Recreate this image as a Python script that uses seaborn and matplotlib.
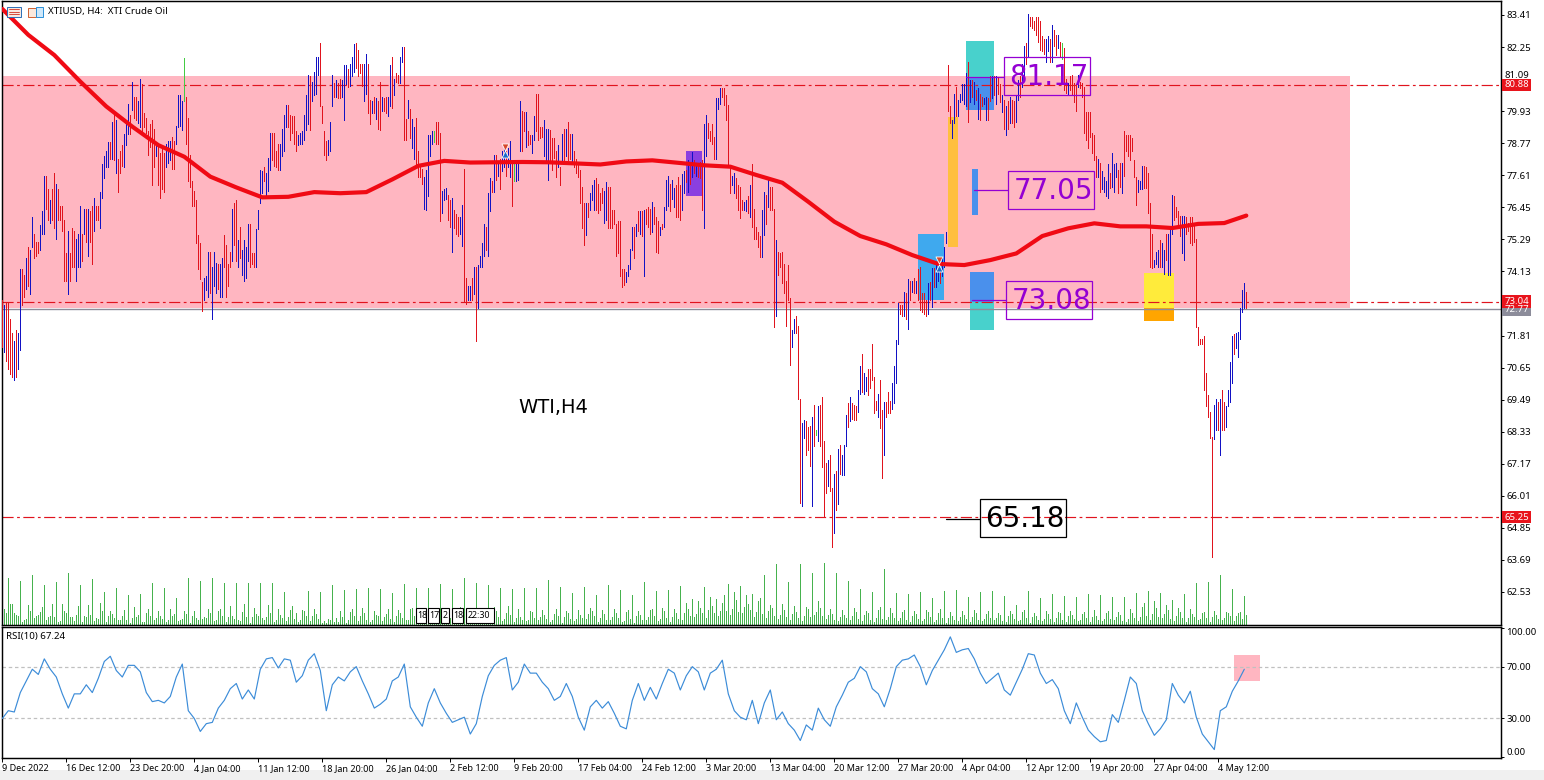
import matplotlib
matplotlib.use("Agg")
import matplotlib.pyplot as plt
from matplotlib.patches import Rectangle
import numpy as np
import pandas as pd
import seaborn as sns

# ---------- data ----------
bar_high = [
73.1,72.9,73.0,73.0,72.4,71.9,71.6,72.0,71.9,74.2,74.2,74.0,74.6,
75.0,74.9,76.1,75.5,75.2,75.2,75.8,76.3,77.6,77.6,77.1,76.7,77.1,
77.7,77.3,77.1,76.5,76.5,76.0,74.8,75.6,74.8,75.7,75.6,75.3,75.5,
76.5,75.5,76.4,76.4,76.4,76.3,76.5,76.8,76.5,76.5,77.0,78.0,78.3,
78.5,78.8,78.8,79.55,79.85,79.6,78.2,78.5,78.7,79.1,79.55,80.2,79.8,
81.0,80.45,80.45,80.3,81.1,80.9,79.85,79.7,79.2,79.45,79.6,79.3,78.8,
78.75,78.4,78.6,78.4,78.75,78.85,78.85,79.0,78.85,79.4,80.5,80.5,80.3,
81.85,80.45,79.7,78.35,77.4,77.05,76.7,75.45,75.15,73.75,73.9,73.95,74.85,
74.85,74.3,74.85,74.45,74.4,74.4,74.6,75.45,75.1,74.4,74.85,76.4,76.6,
76.7,75.25,75.75,74.9,75.25,75.0,75.85,75.85,74.8,74.8,75.65,76.35,77.8,
77.75,77.9,77.7,78.25,79.15,79.15,79.15,78.5,78.75,78.75,79.3,79.8,80.15,
80.15,79.8,79.75,79.75,79.2,79.05,79.15,79.2,79.8,80.5,81.25,81.2,81.0,
81.35,81.9,81.9,82.4,80.1,79.2,78.85,78.9,79.55,81.25,80.95,81.05,80.95,
81.1,81.05,81.6,81.6,81.45,81.65,81.9,82.35,82.4,82.15,81.65,81.65,81.65,
82.0,81.65,80.35,80.3,80.45,80.4,80.3,81.0,80.45,80.4,80.45,80.45,81.6,
81.9,81.1,81.3,81.25,81.9,82.25,82.25,79.65,80.35,80.0,79.65,79.35,79.7,
78.5,78.0,77.85,77.55,77.8,79.05,79.05,79.2,79.2,79.55,79.55,79.15,77.05,
77.1,77.15,76.9,76.7,76.8,76.35,76.2,76.1,76.1,76.55,77.85,73.9,73.6,
73.6,73.9,74.3,74.3,74.35,74.7,75.15,75.85,75.75,76.95,77.5,77.4,78.35,
78.35,78.1,78.2,78.5,78.7,78.5,78.6,78.85,78.1,78.05,78.1,78.1,80.3,
79.95,79.9,79.9,79.2,79.05,79.05,79.75,80.55,80.55,79.35,79.35,79.6,79.3,
79.3,79.25,78.95,78.95,78.5,78.7,77.9,79.1,79.3,79.3,79.55,79.1,79.1,
78.5,78.2,78.1,77.8,77.2,76.6,76.6,76.6,76.95,77.25,77.45,77.5,77.3,
76.95,77.15,77.05,77.35,77.2,77.2,76.35,76.35,75.85,75.95,75.95,74.2,74.2,
74.1,74.35,74.95,75.75,75.75,75.85,76.3,76.3,76.3,76.35,76.4,76.45,76.4,
76.65,76.45,76.1,75.95,75.75,75.85,76.45,77.45,77.6,77.3,77.45,77.15,77.25,
77.55,77.25,77.65,77.75,77.8,78.15,78.0,78.45,78.15,78.05,78.05,78.1,78.15,
79.45,79.8,79.5,79.2,79.45,79.0,80.4,80.4,80.75,80.75,80.75,80.5,80.15,
77.9,77.6,77.7,77.5,77.25,77.2,76.7,76.65,76.7,76.85,77.25,78.0,76.4,
75.75,75.55,75.4,76.35,77.0,76.9,77.45,77.2,77.2,76.4,75.25,74.85,74.8,
74.85,74.4,73.8,74.35,73.15,72.0,72.4,72.5,72.15,69.5,68.65,68.75,68.7,
68.5,68.55,68.85,69.3,68.4,69.25,69.3,69.6,68.0,67.2,67.3,67.5,66.3,
66.8,66.9,67.7,67.85,67.5,67.85,68.95,69.35,69.6,69.35,69.3,69.25,69.85,
70.7,71.15,70.45,70.3,70.6,70.6,71.5,70.3,69.45,69.7,70.2,69.1,69.4,
69.4,69.75,69.45,70.1,70.7,71.65,72.97,72.9,72.9,73.4,73.35,73.85,73.8,
73.8,73.9,73.8,74.2,74.3,73.35,73.35,73.1,73.7,73.75,74.25,74.25,74.4,
74.3,74.2,74.65,75.0,75.55,81.6,80.1,79.6,80.55,80.8,80.35,80.55,80.9,
80.9,81.3,81.7,81.05,81.05,81.0,80.7,80.75,80.55,80.45,80.4,80.45,80.4,
81.2,81.2,81.2,81.2,81.15,80.9,80.5,80.35,80.1,80.3,80.45,80.35,80.3,
80.5,81.05,81.2,81.65,82.3,82.4,83.45,83.35,83.35,83.2,83.35,83.35,83.2,
82.65,82.55,82.55,82.65,82.55,83.05,82.85,82.7,82.7,82.45,82.4,82.2,81.1,
80.95,81.2,81.25,80.95,80.9,81.25,81.0,80.95,80.8,79.9,79.9,79.9,79.15,
79.05,78.3,78.2,78.05,77.75,77.55,77.4,78.0,77.7,78.4,78.0,78.05,77.8,
78.05,78.05,79.2,79.05,79.05,79.05,78.95,78.15,77.55,77.45,77.4,77.95,77.95,
77.9,77.7,76.6,75.5,74.55,74.85,74.9,75.25,75.15,74.9,75.5,75.5,75.75,
76.9,76.85,76.45,76.3,76.15,76.15,76.15,76.1,75.9,76.1,76.1,75.85,75.3,
72.1,71.7,71.7,71.8,70.45,69.65,69.05,68.15,69.3,69.5,69.4,69.5,69.85,
69.4,69.25,69.85,70.85,71.8,71.85,71.9,71.95,72.8,73.45,73.7,73.4]

bar_low = [
71.4,71.2,70.9,70.6,70.4,70.3,70.2,70.3,70.6,71.3,72.9,73.2,73.5,
73.6,73.3,75.0,74.6,74.7,74.8,74.9,75.5,75.5,76.4,76.0,75.9,76.0,
75.7,75.3,76.0,76.0,75.6,73.8,73.8,73.3,73.8,74.3,74.3,73.8,74.3,
74.3,74.5,75.5,75.2,74.7,75.2,74.4,75.6,76.0,76.0,75.7,76.8,77.5,
77.9,77.9,78.2,78.2,78.15,77.7,77.0,77.7,77.95,77.9,78.7,79.1,79.1,
79.97,79.7,79.6,79.5,79.35,79.2,79.35,79.15,78.35,78.65,77.25,77.9,78.3,
77.25,76.8,77.1,77.0,77.9,78.05,78.15,77.85,77.85,78.75,79.35,79.4,79.25,
80.3,78.75,77.4,77.2,76.5,76.5,75.15,74.2,73.85,72.7,73.1,73.45,73.2,
73.35,72.4,73.6,73.35,73.5,73.2,73.2,74.3,73.2,73.6,74.3,74.5,75.1,
74.5,74.3,74.6,74.0,73.8,73.9,74.5,74.3,74.4,74.3,74.3,75.65,76.6,
76.95,77.4,76.85,77.05,77.8,78.15,77.95,77.9,77.8,77.8,78.3,78.5,79.35,
79.35,78.9,79.15,78.75,78.5,78.7,78.75,78.75,78.9,79.25,79.45,79.25,80.3,
80.5,80.55,81.25,80.1,79.5,78.35,78.15,78.35,78.5,80.1,80.45,80.45,80.4,
80.4,80.45,79.6,80.9,80.8,80.85,81.2,81.35,81.5,81.2,81.3,80.85,80.3,
80.55,79.85,79.45,79.85,79.85,79.65,79.3,79.25,79.95,79.95,79.85,79.75,80.1,
80.05,80.5,81.0,80.95,80.95,81.7,78.9,78.9,79.7,78.95,78.6,78.2,77.9,
77.55,77.55,77.3,76.4,76.35,76.85,78.3,78.75,78.8,78.75,78.75,75.95,76.25,
76.7,76.75,76.0,75.75,74.85,75.7,75.5,75.4,75.5,75.05,73.05,72.95,73.1,
73.1,73.1,73.3,71.6,72.8,74.3,74.3,74.7,74.9,74.7,76.3,77.0,77.0,
77.45,77.6,77.1,77.75,77.9,77.6,77.9,77.55,76.5,77.4,77.4,77.45,78.5,
78.5,79.2,78.65,78.7,78.75,78.4,78.9,79.2,78.9,78.95,79.0,78.3,78.15,
77.45,78.15,77.8,78.25,77.55,77.9,77.25,78.05,78.15,78.3,78.15,78.2,78.05,
77.9,77.7,77.55,76.6,75.7,75.1,75.45,76.1,76.35,76.7,76.35,76.35,76.25,
76.35,76.6,75.9,76.0,75.7,75.7,75.7,75.85,74.7,74.8,73.95,73.55,73.65,
73.75,73.95,74.2,74.9,74.6,75.4,75.6,75.5,75.4,73.95,75.85,75.75,75.5,
75.55,75.85,74.85,74.8,75.45,75.65,75.75,76.35,76.5,76.3,76.75,76.45,76.1,
76.1,76.0,76.35,76.95,77.35,77.0,77.3,77.55,77.7,77.6,77.55,77.5,76.35,
75.7,78.3,78.95,78.85,78.75,78.2,78.2,80.0,80.2,80.45,80.15,79.6,77.9,
76.95,77.25,76.95,76.8,76.35,76.05,76.35,76.35,76.3,76.25,76.1,75.75,75.3,
75.3,75.0,74.65,74.65,75.45,75.85,76.45,76.35,76.35,72.13,72.5,74.0,74.3,
73.7,73.35,72.15,73.1,70.75,71.4,71.9,71.9,69.5,65.75,65.65,68.1,67.5,
67.65,67.1,65.65,67.8,68.2,68.0,67.8,67.05,65.25,66.1,66.35,66.2,64.15,
64.65,65.5,65.7,66.8,66.75,66.75,67.8,68.5,68.7,68.8,68.75,68.75,69.05,
69.7,69.75,69.7,69.8,69.65,69.9,70.2,69.0,69.1,68.85,68.45,66.65,67.5,
68.85,69.0,69.0,69.15,69.35,70.1,71.5,72.6,72.5,72.5,72.4,72.05,73.1,
73.4,73.35,73.35,73.1,72.75,72.65,72.6,72.5,72.6,73.1,72.85,73.55,73.55,
73.8,73.7,73.95,74.3,75.15,79.95,79.5,78.95,79.5,79.75,79.75,80.25,80.35,
80.2,80.1,79.55,80.25,80.45,80.2,80.35,79.65,79.6,80.1,80.2,79.6,79.6,
80.3,80.4,80.5,80.2,80.55,80.25,79.9,79.3,79.05,79.3,79.5,79.5,79.35,
79.55,80.35,80.45,80.8,81.1,81.65,81.9,83.0,82.95,82.85,82.7,82.45,82.15,
82.1,82.0,81.7,82.1,81.7,81.7,82.3,81.95,82.2,81.9,81.8,80.7,80.6,
80.5,80.7,80.55,80.25,79.95,80.8,80.75,80.45,79.15,78.9,78.6,79.0,78.4,
78.15,77.55,77.55,77.0,77.1,77.0,76.85,76.8,77.15,77.2,77.0,77.55,76.95,
77.2,76.95,77.6,78.5,78.3,78.15,78.5,77.55,76.55,77.0,77.1,77.1,77.15,
77.15,76.25,74.3,74.25,74.3,74.4,74.3,74.3,74.3,74.05,74.55,74.0,74.0,
75.5,76.0,76.1,75.75,75.4,74.8,74.55,75.5,75.6,75.15,75.1,75.2,72.1,
71.45,71.5,71.5,69.85,69.25,68.85,68.1,63.8,68.05,68.4,68.4,67.5,68.4,
68.4,68.5,69.25,69.4,70.1,71.15,71.35,71.05,71.7,72.65,72.8,72.8]

bar_dir = ("rbrrrrbrbbrrb" "rbbrrrbbbrrbr" "rbrrrrrbrrrbb" "brbrbrrbrrbbb" "bbrbrbrrrbbbr" "brrbbrrrrrrrb"
           "rrrrbbbrrbbbb" "grrrrrrrrrbbb" "rbbbrbbrrrrbr" "rbrbbbbrrrbbb" "brbbbrrrrbbbb" "rrrrrbbbbbbrb"
           "bbbrrrrbbbrbr" "rbbbrbbbrrrrb" "brrbrbrrbrrbb" "rbrrbbrrbrbbr" "rrrbbbbbgrrrb" "bbrrbrrrbbrrb"
           "brbrbbbbrbbrb" "rbrbbrbbrgbbb" "rrbrrbbrrrrbb" "brrrrbrbrbrrb" "rrrrrrbrbbbrr" "rrbbrrrrrrrrr"
           "bbbbrbrbrbrrr" "brrrbrbbbrbbr" "rrbbrbrbrbrrr" "bbrrrrbbbrrrr" "rbbrrrrbbrbrr" "rrrbbrbrrrbrr"
           "rrrrrbbrrrbbr" "rrbrgbrrrrbrr" "brbrbbbrbrrrb" "brbbrrrrrbrrb" "rrrbbbbrrbrbr" "brbrrrrrbrbrb"
           "brbbbrrbbrbbb" "bbrbrbrbrrbbr" "rbrbrrbrbrbrr" "bbrbbrbrrrrrr" "rrbbrbrrbrgrr" "brrrrbrrrrrrr"
           "rrbrbbbbrbbbr" "rbrrrrrrrbbbr" "rrrrbbbrbbrbb" "brrrrbbrrrrrr" "rrrrrrrrbbrbr" "rbbbbrbbbbbr")

ma_every_13 = [83.63,82.69,81.96,81.0,80.1,79.37,78.7,78.28,77.56,77.17,76.81,76.83,77.0,76.96,77.0,77.46,
               77.95,78.13,78.07,78.08,78.09,78.08,78.04,78.0,78.11,78.15,78.06,77.97,77.92,77.62,77.34,76.65,
               75.93,75.41,75.11,74.72,74.4,74.36,74.54,74.78,75.41,75.69,75.87,75.76,75.76,75.7,75.85,75.88,76.15]

vol_head = [9, 16, 12]
vol_spike = [47,44,50,40,43,52,40,46,33,37,30,31,42,37,27,47,44,47,42,42,42,42,42,33,12,34,33,40,35,36,37,36,32,41,37,37,41,36,47,42,40,37,36,37,37,45,38,32,38,30,40,35,30,
             43,34,35,39,26,38,26,41,39,31,50,61,43,61,52,62,52,44,36,33,56,32,31,33,27,34,35,28,33,34,29,20,34,27,31,29,28,31,30,28,28,32,34,32,25,31,42,43,50,36,29]
vol_other = [
21,21,12,10,9, 3,5,6,20,14, 7,9,10,13,18, 5,8,9,21,8, 3,4,21,14,12, 8,8,4,10,19, 3,9,8,20,10, 4,7,6,22,14,
3,9,14,11,7, 5,5,9,15,5, 2,7,18,8,10, 3,3,12,16,9, 5,7,14,9,6, 3,5,16,9,11, 4,5,6,14,11, 2,9,14,7,5,
6,8,7,16,12, 4,5,14,16,9, 3,8,19,9,6, 5,4,13,21,8, 2,8,17,11,9, 7,5,8,20,12, 3,5,16,10,7, 4,8,15,19,6,
3,5,15,14,9, 4,9,16,11,6, 2,4,2,6,5, 3,7,3,14,8, 2,5,13,16,9, 4,9,17,12,5, 3,5,14,10,9, 4,8,11,16,6,
3,9,15,12,7, 5,5,16,17,9, 2,8,16,10,6, 4,6,15,13,8, 3,5,17,10,7, 5,9,11,18,6, 3,5,16,11,9, 4,7,14,17,7,
6,9,18,14,8, 4,6,12,19,10, 3,7,16,8,5, 4,5,14,13,7, 5,8,15,10,6, 3,5,11,16,9, 2,8,14,12,6, 4,6,15,10,7,
6,11,17,14,9, 3,7,15,11,5, 5,8,16,12,7, 3,4,13,15,6, 2,9,14,10,5, 5,8,15,16,9, 4,6,17,14,7, 3,8,16,12,6,
5,12,22,16,9, 8,11,24,17,12, 7,15,28,19,12, 9,14,22,30,14, 10,16,33,25,13, 12,18,30,21,15, 8,13,24,27,11, 7,14,20,17,9,
6,10,21,15,8, 5,11,19,13,7, 4,9,18,16,8, 10,13,24,17,9, 6,10,16,11,5, 4,8,15,10,7, 5,9,17,13,6, 4,10,14,12,5,
3,7,15,18,6, 5,8,17,12,7, 4,7,13,15,5, 3,9,14,11,6, 4,6,15,13,8, 3,5,12,16,7, 2,7,13,9,5, 4,8,14,10,6,
3,8,15,12,5, 4,6,11,14,7, 5,7,12,10,4, 3,9,14,11,6, 4,5,13,15,7, 2,8,12,9,5, 4,6,14,11,6, 3,7,13,12,5,
3,9,14,10,6, 4,5,11,13,7, 3,8,15,9,5, 4,6,12,14,6, 5,8,13,10,4, 3,6,16,12,7, 4,8,18,22,9, 5,11,24,17,8,
7,11,20,15,6, 4,9,17,13,7, 3,7,16,11,8, 5,6,12,13,7, 3,8,14,10,6, 5,7,13,12,9, 4,9,12,13,6]
vol_tail = [10]

rsi_every_3 = [30,36,35,50,59,68,64,76,68,62,49,38,49,49,56,50,61,74,78,67,62,71,71,66,50,43,44,42,47,62,
               72,36,30,20,26,27,38,44,53,57,45,52,45,68,76,77,69,76,75,58,63,75,80,67,36,56,62,59,66,70,
               59,49,38,41,45,59,62,72,39,31,24,42,53,42,34,27,29,31,18,26,47,63,71,75,77,52,58,72,65,65,
               58,53,44,47,57,47,31,21,39,44,38,43,34,24,22,44,57,
               44,54,45,57,68,65,52,63,70,66,52,65,68,75,49,36,31,29,44,26,42,52,29,35,26,21,13,25,21,38,
               29,24,39,48,58,61,70,66,53,49,39,53,70,75,76,79,70,56,67,75,83,93,81,83,84,76,65,57,61,65,
               52,48,58,68,80,79,65,57,60,53,36,26,42,31,21,16,12,13,33,27,44,62,57,36,26,17,22,29,57,48,
               42,51,31,18,12,6,36,39,51,59,68]

price_ticks = [83.41,82.25,81.09,79.93,78.77,77.61,76.45,75.29,74.13,71.81,70.65,69.49,68.33,67.17,66.01,64.85,63.69,62.53]
rsi_ticks = [100, 70, 30, 0]
time_labels = ["9 Dec 2022","16 Dec 12:00","23 Dec 20:00","4 Jan 04:00","11 Jan 12:00","18 Jan 20:00","26 Jan 04:00",
               "2 Feb 12:00","9 Feb 20:00","17 Feb 04:00","24 Feb 12:00","3 Mar 20:00","13 Mar 04:00","20 Mar 12:00",
               "27 Mar 20:00","4 Apr 04:00","12 Apr 12:00","19 Apr 20:00","27 Apr 04:00","4 May 12:00"]
level_prices = [80.88, 73.04, 65.25]

# ---------- assemble ----------
n = min(len(bar_high), len(bar_low), len(bar_dir))
spikes, others = iter(vol_spike), iter(vol_head + vol_other + vol_tail)
volumes = [next(spikes, 30) if (i - 3) % 6 == 0 else next(others, 5) for i in range(n)]
bars = pd.DataFrame({"i": np.arange(n), "high": bar_high[:n], "low": bar_low[:n], "dir": list(bar_dir[:n]), "vol": volumes})
ma = pd.DataFrame({"i": list(range(0, n, 13))[:len(ma_every_13) - 1] + [n - 1], "v": ma_every_13})
rsi = pd.DataFrame({"i": np.arange(len(rsi_every_3)) * 3, "v": rsi_every_3})

# ---------- figure ----------
sns.set_theme(style="white")
plt.rcParams["font.family"] = ["Noto Sans", "DejaVu Sans"]
plt.rcParams["lines.scale_dashes"] = False
W, H = 1544, 780
fig = plt.figure(figsize=(W / 100, H / 100), dpi=100, facecolor="white")

def axes_px(x0, y0, x1, y1):
    return fig.add_axes([x0 / W, 1 - y1 / H, (x1 - x0) / W, (y1 - y0) / H])

X = lambda px: (px - 2.3) / 2
P = lambda py: 83.41 - (py - 15) / 27.63

axv = axes_px(2, 560, 1501, 624.5)
ax = axes_px(2, 1, 1501, 625)
axr = axes_px(2, 627, 1501, 758)
for a in (ax, axr, axv):
    a.set_xlim(X(2), X(1501))
ax.set_ylim(P(625), P(1))
axr.set_ylim(-0.5, 100.6)
axv.set_ylim(0, 64.5)
axv.axis("off")
axv.set_zorder(1)
ax.set_zorder(2)
axr.set_zorder(2)
ax.patch.set_alpha(0)

# zones
def zone(a, x0, y0, x1, y1, color, z=1):
    a.add_patch(Rectangle((X(x0), P(y1)), X(x1) - X(x0), P(y0) - P(y1), fc=color, ec="none", zorder=z))

zone(ax, 2, 76, 1350, 308, "#FFB6C1", 0.5)
TEAL, BLUE, SKY, AMBER = "#48D1CC", "#4A90EC", "#3FA9EE", "#FFBF3F"
zone(ax, 966, 41, 994, 110, TEAL)
zone(ax, 966, 77, 994, 110, BLUE, 1.1)
zone(ax, 918, 234, 944, 300, SKY)
zone(ax, 948.5, 117, 958, 247, AMBER)
zone(ax, 972, 169, 978, 215, BLUE)
zone(ax, 970, 272, 994, 330, TEAL)
zone(ax, 970, 272, 994, 302, BLUE, 1.1)
zone(ax, 1144, 273, 1174, 308, "#FFEB3B")
zone(ax, 1144, 308, 1174, 321, "#FFA500")
zone(ax, 686, 151, 702, 196, "#8A3FE0")

# levels
dash = (0, (8, 2.5, 2, 2.5))
for p in level_prices:
    ax.axhline(p, color="#E0141E", lw=0.85, ls=dash, zorder=1.5)
ax.axhline(72.77, color="#8C8C9A", lw=1.0, zorder=1.5)

# candles and volume
palette = {"r": "#E0141E", "b": "#1212C4", "g": "#44CC44"}
for key, grp in bars.groupby("dir"):
    ax.vlines(grp["i"], grp["low"], grp["high"], color=palette[key], lw=0.5, zorder=3, antialiased=False)
axv.vlines(bars["i"], 0, bars["vol"], color="#46B24E", lw=0.5, antialiased=False)

# moving average
sns.lineplot(data=ma, x="i", y="v", ax=ax, color="#F00A14", lw=3.0, zorder=4, estimator=None, legend=False,
             solid_capstyle="round")
ax.set_xlim(X(2), X(1501))

# arrows
for xp, y1, y2 in [(505, 147, 154), (939, 260, 268)]:
    ax.scatter([X(xp)], [P(y1)], marker="v", s=26, c="#D8472B", edgecolors="white", linewidths=0.6, zorder=5)
    ax.scatter([X(xp)], [P(y2)], marker="^", s=26, c="#1C6CC8", edgecolors="white", linewidths=0.6, zorder=5)

# price label boxes
def label(x0, y0, x1, y1, txt, color, xc0, yc):
    ax.add_patch(Rectangle((X(x0), P(y1)), X(x1) - X(x0), P(y0) - P(y1), fc="none", ec=color, lw=0.9, zorder=6))
    ax.plot([X(xc0), X(x0)], [P(yc), P(yc)], color=color, lw=0.9, zorder=6)
    ax.text(X((x0 + x1) / 2 + 2), P((y0 + y1) / 2 + 1), txt, color=color, fontsize=20, family="DejaVu Sans",
            ha="center", va="center", zorder=6)

PURPLE = "#9400D3"
label(1004.5, 57, 1090, 95, "81.17", PURPLE, 966, 77)
label(1008.5, 171, 1094, 209.5, "77.05", PURPLE, 974, 190)
label(1006.5, 281, 1092, 319, "73.08", PURPLE, 972, 300)
label(980.5, 499, 1066, 537, "65.18", "#000000", 946, 518.5)
ax.text(X(518), P(407), "WTI,H4", fontsize=14, color="black", family="DejaVu Sans", ha="left", va="center", zorder=6)

# header and icons
ax.text(X(48), P(12), "XTIUSD, H4:  XTI Crude Oil", fontsize=7.0, color="black", ha="left", va="center", zorder=6)
ax.add_patch(Rectangle((X(7.5), P(17)), X(21) - X(7.5), P(7) - P(17), fc="#F8E8E0", ec="#2A6FB8", lw=0.7, zorder=6))
for yy in (9.5, 12, 14.5):
    ax.plot([X(9), X(19.5)], [P(yy), P(yy)], color="#D03020", lw=0.6, zorder=7)
ax.add_patch(Rectangle((X(28.5), P(17)), X(35.5) - X(28.5), P(8) - P(17), fc="#FBE9DD", ec="#D06030", lw=0.7, zorder=6))
ax.add_patch(Rectangle((X(36.5), P(17)), X(43) - X(36.5), P(7) - P(17), fc="#CFE8FA", ec="#2A8FD8", lw=0.7, zorder=6))

# time markers on the price pane
for x0, x1, t in [(416, 426, "18"), (428, 439, "17"), (441, 449, "2"), (452, 463, "18"), (466, 494, "22:30")]:
    box = Rectangle((X(x0), P(623)), X(x1) - X(x0), P(608) - P(623), fc="white", ec="black", lw=0.8, zorder=6)
    ax.add_patch(box)
    tx = ax.text(X(x0 + 1.5), P(615.5), t, fontsize=6.4, color="black", ha="left", va="center", zorder=7)
    tx.set_clip_path(box)

# rsi pane
axr.add_patch(Rectangle((X(1234.3), 59), X(1260) - X(1234.3), 19.7, fc="#FFB6C1", ec="none", zorder=1))
for lv in (70, 30):
    axr.axhline(lv, color="#C0C0C0", lw=0.9, ls=(0, (2.5, 2)), zorder=1)
sns.lineplot(data=rsi, x="i", y="v", ax=axr, color="#3C8CD8", lw=0.85, zorder=3, estimator=None, legend=False)
axr.set_xlim(X(2), X(1501))
axr.text(X(6), 93, "RSI(10) 67.24", fontsize=7, color="black", ha="left", va="center")

# axes furniture
for a in (ax, axr):
    for s in a.spines.values():
        s.set_visible(True)
        s.set_color("black")
        s.set_linewidth(1.05)
    a.set_xlabel("")
    a.set_ylabel("")
    a.yaxis.tick_right()
    a.tick_params(axis="y", which="major", length=2.4, width=0.7, pad=1.5, labelsize=6.9, colors="black", right=True)

ax.set_xticks([])
ax.set_yticks(price_ticks)
ax.set_yticklabels(["" if t == 81.09 else f"{t:.2f}" for t in price_ticks])
ax.text(X(1505), P(75.5), "81.09", fontsize=6.9, color="black", ha="left", va="center", clip_on=False, zorder=7)
axr.set_yticks(rsi_ticks)
axr.set_yticklabels([f"{t:.2f}" for t in rsi_ticks])
ytl = axr.get_yticklabels()
ytl[0].set_va("top")
ytl[-1].set_va("bottom")
axr.set_xticks(np.arange(len(time_labels)) * 32)
axr.set_xticklabels(time_labels, ha="left", fontsize=6.5)
axr.tick_params(axis="x", length=2.6, width=0.7, pad=2, colors="black", bottom=True)

# price tags
for p, yp, c in [(72.77, 309.5, "#8C8C9A"), (80.88, 85, "#E8141C"), (73.04, 301.5, "#E8141C"), (65.25, 517, "#E8141C")]:
    ax.add_patch(Rectangle((X(1502.5), P(yp + 6)), X(1531.5) - X(1502.5), P(yp - 6) - P(yp + 6), fc=c, ec="none",
                           clip_on=False, zorder=8))
    ax.text(X(1517), P(yp), f"{p:.2f}", fontsize=6.9, color="white", ha="center", va="center", clip_on=False, zorder=9)

fig.add_artist(Rectangle((0, 0), 1, 10 / H, transform=fig.transFigure, fc="#F0F0F0", ec="none"))
fig.savefig("out.png", dpi=100)
